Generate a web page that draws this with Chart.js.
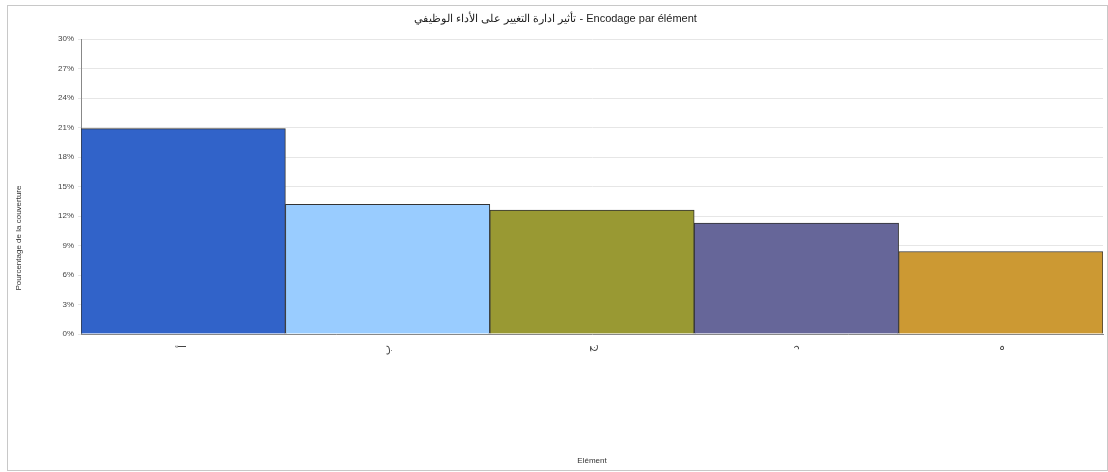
<!DOCTYPE html>
<html>
<head>
<meta charset="utf-8">
<script src="https://cdn.jsdelivr.net/npm/chart.js@4"></script>
<style>
  body { margin: 0; background: #fff; }
  #box { position: absolute; left: 7px; top: 5px; width: 1099px; height: 464px; border: 1px solid #c8c8c8; }
</style>
</head>
<body>
<div id="box"><canvas id="grafico"></canvas></div>
<script>
const titulo = "تأثير ادارة التغيير على الأداء الوظيفي - Encodage par élément";
const tituloY = "Pourcentage de la couverture";
const elementos = ["أ", "ب", "ج", "د", "ه"];
const valores = [20.9, 13.2, 12.6, 11.3, 8.4];
const cores = ["#3163c9", "#99ccff", "#999933", "#666699", "#cc9933"];
const ticksY = [0, 3, 6, 9, 12, 15, 18, 21, 24, 27, 30];

// titulo do eixo Y centrado na altura total do grafico
const tituloEixoY = {
  id: "tituloEixoY",
  afterDraw(chart) {
    const ctx = chart.ctx;
    ctx.save();
    ctx.translate(11, chart.height / 2);
    ctx.rotate(-Math.PI / 2);
    ctx.font = "8px 'Liberation Sans', Arial";
    ctx.fillStyle = "#333";
    ctx.textAlign = "center";
    ctx.textBaseline = "middle";
    ctx.fillText(tituloY, 0, 0);
    ctx.restore();
  }
};

new Chart(document.getElementById("grafico"), {
  type: "bar",
  data: {
    labels: elementos,
    datasets: [{
      data: valores,
      backgroundColor: cores,
      borderColor: "#333",
      borderWidth: 1,
      barPercentage: 1,
      categoryPercentage: 1
    }]
  },
  plugins: [tituloEixoY],
  options: {
    responsive: true,
    maintainAspectRatio: false,
    animation: false,
    layout: { padding: { left: 0, right: 4, top: 0, bottom: 0 } },
    plugins: {
      legend: { display: false },
      tooltip: { enabled: false },
      title: {
        display: true,
        text: titulo,
        color: "#222",
        font: { family: "Liberation Sans, Arial", size: 11, weight: "normal" },
        padding: { top: 6, bottom: 14 }
      }
    },
    scales: {
      x: {
        grid: { display: false },
        border: { color: "#888" },
        ticks: {
          color: "#444",
          font: { family: "DejaVu Sans", size: 11 },
          minRotation: 90,
          maxRotation: 90
        },
        title: {
          display: true,
          text: "Elément",
          color: "#333",
          font: { family: "Liberation Sans, Arial", size: 8 },
          padding: { top: 0, bottom: 4 }
        },
        afterFit: s => { s.height = 136; }
      },
      y: {
        min: 0,
        max: 30,
        afterBuildTicks: s => { s.ticks = ticksY.map(v => ({ value: v })); },
        grid: { color: "#e6e6e6", tickLength: 3 },
        border: { color: "#888" },
        ticks: {
          color: "#444",
          font: { family: "Liberation Sans, Arial", size: 8 },
          padding: 4,
          callback: v => v + "%"
        },
        afterFit: s => { s.width = 73; }
      }
    }
  }
});
</script>
</body>
</html>
